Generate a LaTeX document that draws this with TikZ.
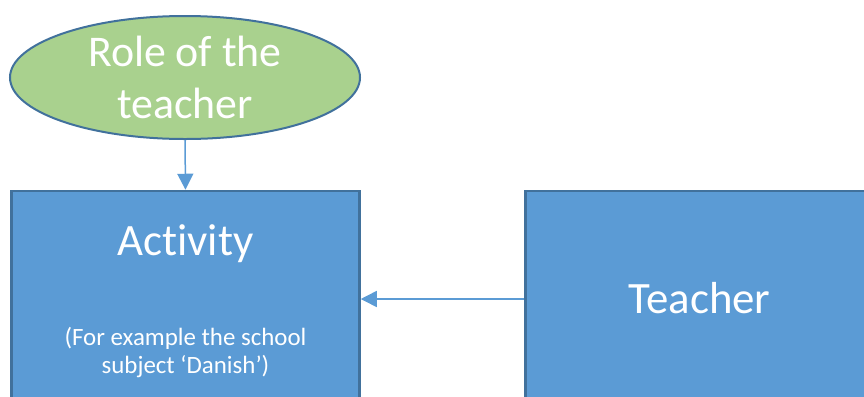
\documentclass[tikz,border=0pt]{standalone}
\usepackage{fontspec}
\setmainfont{Carlito}[Ligatures=NoCommon]
\usetikzlibrary{shapes.geometric,arrows.meta}

\definecolor{boxblue}{RGB}{91,155,213}
\definecolor{boxedge}{RGB}{65,113,156}
\definecolor{ovalgreen}{RGB}{169,209,142}

\tikzset{
  blockbox/.style={draw=boxedge,fill=boxblue,line width=2.5bp,minimum width=348bp,minimum height=216bp,inner sep=0pt},
  roleoval/.style={ellipse,draw=boxedge,fill=ovalgreen,line width=2bp,minimum width=350bp,minimum height=123bp,inner sep=0pt,text=white,align=center},
  bigtext/.style={text=white,inner sep=0pt,font=\fontsize{45}{50}\selectfont},
  smalltext/.style={text=white,inner sep=0pt,align=center,font=\fontsize{25}{28}\selectfont},
  linkarrow/.style={draw=boxblue,line width=1.5bp,-{Triangle[length=16bp,width=16bp]}}
}

\begin{document}
\begin{tikzpicture}[x=1bp,y=-1bp]
\useasboundingbox (0,0) rectangle (864,396);
\clip (0,0) rectangle (864,396);
% the two blocks
\node[blockbox] (activity) at (185.5,299) {};
\node[blockbox] (teacher) at (699.5,299) {};
\node[bigtext,anchor=base] (activitytitle) at (185.5,255) {Activity};
\node[smalltext,anchor=base] (activitynote) at (185.5,373) {(For example the school\\subject ‘Danish’)};
\node[bigtext,anchor=base] (teachertitle) at (699.5,313) {Teacher};
% the role oval
\node[roleoval,font=\fontsize{44}{53}\selectfont] (role) at (185,77.5) {Role of the\\teacher};
% links
\draw[linkarrow] (role.south) -- (activity.north);
\draw[linkarrow] (teacher.west) -- (activity.east);
\end{tikzpicture}
\end{document}
